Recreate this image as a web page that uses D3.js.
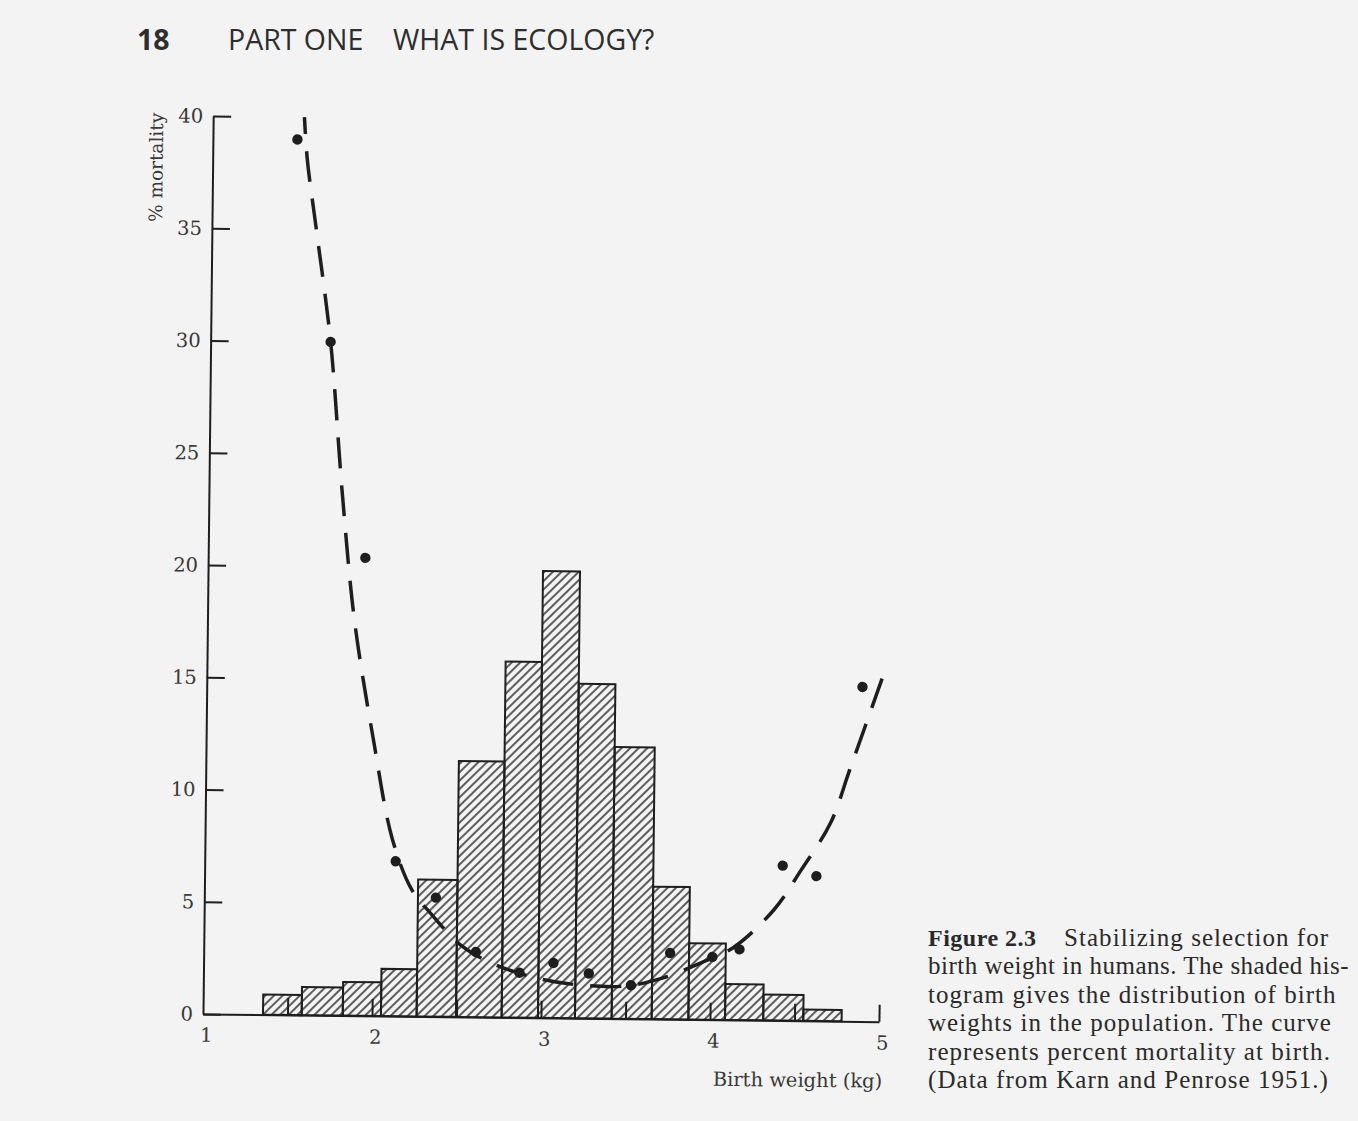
<!DOCTYPE html>
<html>
<head>
<meta charset="utf-8">
<script src="https://cdn.jsdelivr.net/npm/d3@7"></script>
<style>
  body { margin: 0; background: #f3f3f3; }
  svg { display: block; }
</style>
</head>
<body>
<div id="chart-area"></div>
<script>
const binEdges = [1.355, 1.584, 1.827, 2.053, 2.264, 2.497, 2.767, 2.982, 3.201,
    3.418, 3.655, 3.872, 4.089, 4.315, 4.552, 4.779];
const binPercent = [0.9, 1.25, 1.5, 2.1, 6.1, 11.4, 15.85, 19.9, 14.9, 12.1,
    5.9, 3.4, 1.6, 1.15, 0.5];

// observed mortality points
const mortWeight = [1.50, 1.71, 1.93, 2.13, 2.37, 2.61, 2.87, 3.07, 3.28, 3.53,
    3.76, 4.01, 4.17, 4.42, 4.62, 4.88];
const mortPercent = [39.0, 30.0, 20.4, 6.9, 5.3, 2.9, 2.0, 2.45, 2.0, 1.5,
    2.95, 2.8, 3.15, 6.9, 6.45, 14.9];

// fitted (dashed) mortality curve
const curveWeight = [1.54, 1.56, 1.62, 1.71, 1.79, 1.87, 1.99, 2.11, 2.23, 2.34,
    2.52, 2.69, 2.97, 3.23, 3.50, 3.72, 3.94, 4.13, 4.37, 4.53, 4.70, 4.81, 5.01];
const curvePercent = [40.0, 38.1, 34.9, 30.0, 23.2, 17.6, 12.3, 7.85, 5.6, 4.6,
    3.2, 2.46, 1.77, 1.48, 1.46, 1.84, 2.52, 3.21, 4.92, 6.72, 8.82, 11.2, 15.6];

const xTicks = [1, 2, 3, 4, 5];
const xMinorTicks = [1.5, 2, 2.5, 3, 3.5, 4, 4.5, 5];
const yTicks = [0, 5, 10, 15, 20, 25, 30, 35, 40];

const headerParts = ['18', 'PART ONE', 'WHAT IS ECOLOGY?'];
const captionTitle = 'Figure 2.3';
const captionLines = [
    'Stabilizing selection for',
    'birth weight in humans. The shaded his-',
    'togram gives the distribution of birth',
    'weights in the population. The curve',
    'represents percent mortality at birth.',
    '(Data from Karn and Penrose 1951.)'
];

const width = 1358, height = 1121;
const plot = {left: 203, right: 879, top: 116, bottom: 1014};
const tilt = 0.65; // the page was scanned slightly askew

const ink = '#1e1e1e', textInk = '#383838';

const svg = d3.select('#chart-area')
    .append('svg')
    .attr('width', width)
    .attr('height', height);

svg.append('rect')
    .attr('width', width)
    .attr('height', height)
    .attr('fill', '#f3f3f3');

svg.append('defs').append('pattern')
    .attr('id', 'hatch')
    .attr('patternUnits', 'userSpaceOnUse')
    .attr('width', 6)
    .attr('height', 6)
    .attr('patternTransform', 'rotate(45)')
    .append('line')
    .attr('x1', 3).attr('y1', 0)
    .attr('x2', 3).attr('y2', 6)
    .attr('stroke', '#2a2a2a')
    .attr('stroke-width', 1.5);

const g = svg.append('g')
    .attr('transform', 'rotate(' + tilt + ', ' + plot.left + ', ' + plot.bottom + ')');

const xScale = d3.scaleLinear()
    .domain([1, 5])
    .range([plot.left, plot.right]);

const yScale = d3.scaleLinear()
    .domain([0, 40])
    .range([plot.bottom, plot.top]);

// bars
g.selectAll('rect.bar')
    .data(binPercent)
    .enter()
    .append('rect')
    .attr('class', 'bar')
    .attr('x', (d, i) => xScale(binEdges[i]))
    .attr('width', (d, i) => xScale(binEdges[i + 1]) - xScale(binEdges[i]))
    .attr('y', d => yScale(d))
    .attr('height', d => yScale(0) - yScale(d))
    .attr('fill', 'url(#hatch)')
    .attr('stroke', ink)
    .attr('stroke-width', 2);

// axes
const yAxisCall = d3.axisLeft(yScale)
    .tickValues(yTicks)
    .tickSizeInner(-18)
    .tickSizeOuter(0)
    .tickPadding(10);

const yAxis = g.append('g')
    .attr('transform', 'translate(' + plot.left + ', 0)')
    .call(yAxisCall);

const xAxisCall = d3.axisBottom(xScale)
    .tickValues(xTicks)
    .tickSize(0)
    .tickPadding(14)
    .tickFormat(d3.format('d'));

const xAxis = g.append('g')
    .attr('transform', 'translate(0, ' + plot.bottom + ')')
    .call(xAxisCall);

const xMinor = g.append('g')
    .attr('transform', 'translate(0, ' + plot.bottom + ')')
    .call(d3.axisBottom(xScale).tickValues(xMinorTicks).tickSize(-17).tickFormat(''));
xMinor.select('.domain').remove();

[yAxis, xAxis, xMinor].forEach(a => {
    a.selectAll('.domain, line')
        .attr('stroke', ink)
        .attr('stroke-width', 2);
    a.selectAll('text')
        .attr('fill', textInk)
        .attr('font-family', '"DejaVu Serif", serif')
        .attr('font-size', '19.5px');
});
xAxis.selectAll('text').attr('dx', 3);

// axis titles
g.append('text')
    .text('% mortality')
    .attr('transform', 'rotate(-90)')
    .attr('x', -168)
    .attr('y', 153)
    .attr('text-anchor', 'middle')
    .attr('fill', textInk)
    .attr('font-family', '"DejaVu Serif", serif')
    .attr('font-size', '18.5px');

g.append('text')
    .text('Birth weight (kg)')
    .attr('x', 883)
    .attr('y', 1080)
    .attr('text-anchor', 'end')
    .attr('fill', textInk)
    .attr('font-family', '"DejaVu Serif", serif')
    .attr('font-size', '19.5px');

// mortality curve and points
const line = d3.line()
    .x(d => xScale(d[0]))
    .y(d => yScale(d[1]))
    .curve(d3.curveCatmullRom);

g.append('path')
    .datum(d3.zip(curveWeight, curvePercent))
    .attr('d', line)
    .attr('fill', 'none')
    .attr('stroke', ink)
    .attr('stroke-width', 3.5)
    .attr('stroke-dasharray', '31,17')
    .attr('stroke-dashoffset', 14);

g.selectAll('circle')
    .data(d3.zip(mortWeight, mortPercent))
    .enter()
    .append('circle')
    .attr('cx', d => xScale(d[0]))
    .attr('cy', d => yScale(d[1]))
    .attr('r', 5.2)
    .attr('fill', ink);

// running head
const header = svg.append('text')
    .attr('y', 50)
    .attr('fill', '#2e2e2e')
    .attr('font-family', '"Open Sans", sans-serif')
    .attr('font-size', '28.5px');
header.append('tspan').attr('x', 137).attr('font-weight', 'bold').text(headerParts[0]);
header.append('tspan').attr('x', 228).text(headerParts[1]);
header.append('tspan').attr('x', 393).text(headerParts[2]);

// caption
const caption = svg.append('g')
    .attr('fill', '#2a2a2a')
    .attr('font-family', '"Liberation Serif", serif')
    .attr('font-size', '25px')
    .attr('letter-spacing', '1.05px');

caption.append('text')
    .attr('x', 928)
    .attr('y', 946)
    .attr('font-weight', 'bold')
    .attr('font-size', '24px')
    .attr('letter-spacing', '0.5px')
    .text(captionTitle);

// the long second line is squeezed a little so it stays on the page
caption.selectAll('text.line')
    .data(captionLines)
    .enter()
    .append('text')
    .attr('class', 'line')
    .attr('x', (d, i) => i === 0 ? 1064 : 928)
    .attr('y', (d, i) => 946 + i * 28.4)
    .attr('letter-spacing', (d, i) => i === 1 ? '0.5px' : null)
    .text(d => d);
</script>
</body>
</html>
